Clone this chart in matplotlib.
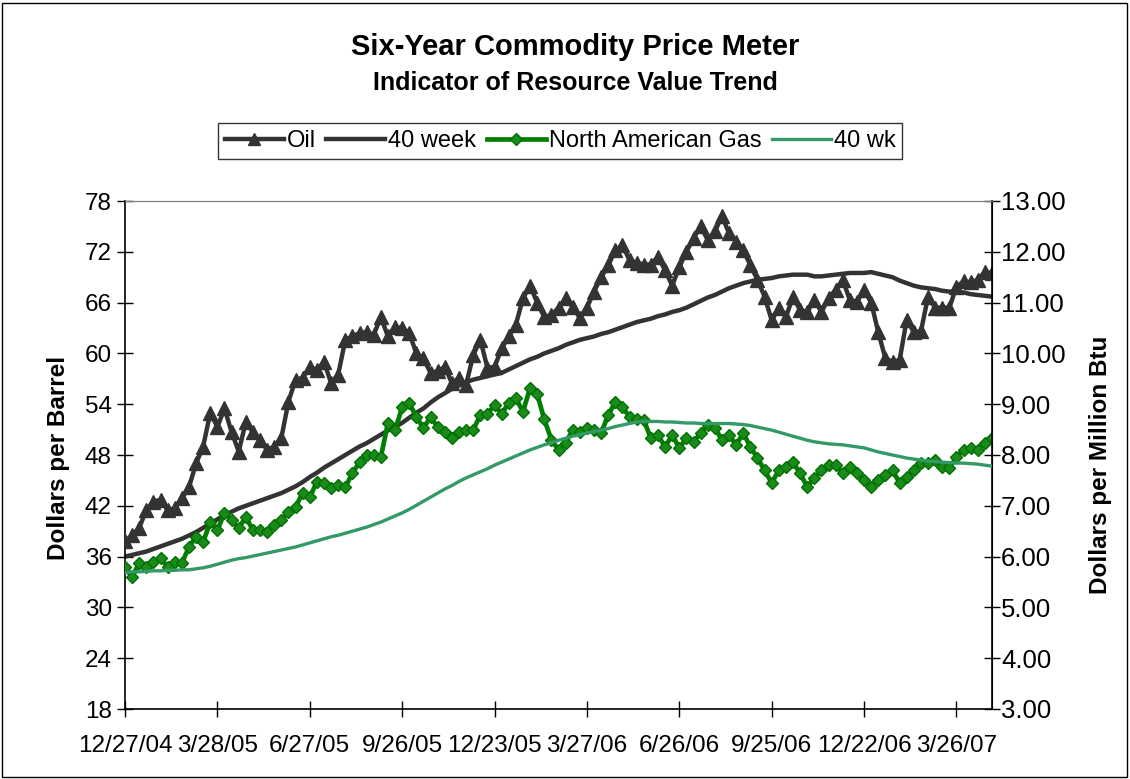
import matplotlib
matplotlib.use("Agg")
import matplotlib.pyplot as plt
from matplotlib.patches import Rectangle
from matplotlib.lines import Line2D

plt.rcParams['font.family'] = ['Liberation Sans', 'DejaVu Sans']

tick_labels = ["12/27/04", "3/28/05", "6/27/05", "9/26/05", "12/23/05",
               "3/27/06", "6/26/06", "9/25/06", "12/22/06", "3/26/07"]
tick_step = 13

oil = [37.8, 38.5, 39.4, 41.5, 42.5, 42.7, 41.5, 41.7, 42.9, 44.2,
       47.0, 49.0, 53.0, 51.3, 53.5, 50.7, 48.4, 51.9, 50.7, 49.8,
       48.6, 49.0, 50.0, 54.3, 56.9, 57.1, 58.4, 58.0, 59.0, 56.5,
       57.5, 61.6, 62.0, 62.4, 62.5, 62.2, 64.3, 62.0, 63.1, 63.0,
       62.4, 60.0, 59.4, 57.7, 57.9, 58.4, 56.5, 57.1, 56.3, 59.8,
       61.6, 58.3, 58.4, 60.6, 62.0, 63.4, 66.5, 68.0, 66.0, 64.3,
       64.5, 65.4, 66.5, 65.5, 64.2, 65.4, 67.3, 69.0, 70.4, 72.2,
       72.8, 71.0, 70.7, 70.5, 70.5, 71.4, 69.8, 68.0, 70.2, 72.0,
       73.6, 75.0, 73.4, 74.4, 76.2, 74.2, 73.2, 72.2, 70.4, 68.7,
       66.7, 63.9, 65.4, 64.3, 66.7, 65.1, 64.9, 66.3, 64.9, 66.5,
       67.5, 68.7, 66.3, 66.1, 67.5, 66.0, 62.5, 59.4, 59.0, 59.2,
       64.0, 62.5, 62.6, 66.7, 65.4, 65.4, 65.4, 67.9, 68.5, 68.4,
       68.7, 69.6, 69.5]

oil_40wk = [36.0, 36.2, 36.4, 36.6, 36.9, 37.2, 37.5, 37.8, 38.1, 38.5,
            38.9, 39.4, 39.9, 40.4, 40.9, 41.3, 41.7, 42.0, 42.3, 42.6,
            42.9, 43.2, 43.5, 43.9, 44.3, 44.8, 45.4, 45.9, 46.5, 47.0,
            47.5, 48.0, 48.5, 49.0, 49.4, 49.9, 50.4, 50.9, 51.3, 51.8,
            52.4, 53.0, 53.5, 54.2, 54.8, 55.3, 55.8, 56.2, 56.6, 56.9,
            57.1, 57.3, 57.5, 57.7, 58.1, 58.5, 58.9, 59.3, 59.6, 60.0,
            60.3, 60.6, 61.0, 61.3, 61.6, 61.8, 62.0, 62.3, 62.5, 62.8,
            63.1, 63.4, 63.7, 63.9, 64.1, 64.4, 64.6, 64.9, 65.1, 65.4,
            65.8, 66.2, 66.6, 66.9, 67.3, 67.7, 68.0, 68.3, 68.5, 68.7,
            68.8, 68.9, 69.1, 69.2, 69.3, 69.3, 69.3, 69.1, 69.1, 69.2,
            69.3, 69.4, 69.5, 69.5, 69.5, 69.6, 69.4, 69.2, 69.0, 68.6,
            68.3, 68.0, 67.8, 67.7, 67.6, 67.4, 67.3, 67.3, 67.2, 67.0,
            66.9, 66.8, 66.7]

gas = [5.80, 5.60, 5.87, 5.80, 5.89, 5.97, 5.80, 5.89, 5.87, 6.19,
       6.39, 6.29, 6.68, 6.52, 6.86, 6.72, 6.56, 6.78, 6.52, 6.52,
       6.48, 6.62, 6.72, 6.88, 6.98, 7.25, 7.17, 7.47, 7.45, 7.35,
       7.41, 7.37, 7.64, 7.86, 8.00, 8.00, 7.96, 8.63, 8.49, 8.94,
       9.02, 8.75, 8.53, 8.75, 8.55, 8.45, 8.33, 8.45, 8.49, 8.49,
       8.79, 8.81, 8.98, 8.81, 9.02, 9.12, 8.85, 9.32, 9.20, 8.70,
       8.30, 8.10, 8.24, 8.49, 8.46, 8.53, 8.49, 8.43, 8.79, 9.04,
       8.94, 8.75, 8.71, 8.69, 8.33, 8.39, 8.16, 8.39, 8.14, 8.33,
       8.26, 8.43, 8.59, 8.53, 8.30, 8.39, 8.20, 8.43, 8.16, 7.94,
       7.70, 7.45, 7.70, 7.76, 7.86, 7.64, 7.37, 7.55, 7.70, 7.80,
       7.80, 7.64, 7.76, 7.64, 7.51, 7.37, 7.51, 7.61, 7.70, 7.45,
       7.57, 7.70, 7.84, 7.84, 7.90, 7.76, 7.74, 7.96, 8.10, 8.14,
       8.10, 8.24, 8.33]

gas_40wk = [5.68, 5.70, 5.70, 5.71, 5.72, 5.72, 5.73, 5.73, 5.74, 5.74,
            5.76, 5.78, 5.81, 5.85, 5.89, 5.93, 5.96, 5.98, 6.01, 6.04,
            6.07, 6.10, 6.13, 6.16, 6.19, 6.23, 6.27, 6.31, 6.35, 6.39,
            6.42, 6.46, 6.50, 6.54, 6.58, 6.63, 6.68, 6.74, 6.80, 6.86,
            6.93, 7.01, 7.09, 7.17, 7.25, 7.33, 7.40, 7.48, 7.55, 7.61,
            7.67, 7.73, 7.80, 7.86, 7.92, 7.98, 8.04, 8.10, 8.15, 8.20,
            8.24, 8.29, 8.33, 8.37, 8.40, 8.43, 8.46, 8.49, 8.52, 8.56,
            8.59, 8.62, 8.65, 8.66, 8.66, 8.66, 8.65, 8.65, 8.64, 8.63,
            8.63, 8.62, 8.62, 8.62, 8.62, 8.62, 8.61, 8.60, 8.58, 8.55,
            8.52, 8.49, 8.45, 8.41, 8.37, 8.33, 8.29, 8.26, 8.24, 8.22,
            8.21, 8.20, 8.18, 8.16, 8.14, 8.10, 8.06, 8.03, 8.00, 7.97,
            7.94, 7.92, 7.90, 7.88, 7.87, 7.86, 7.85, 7.84, 7.84, 7.83,
            7.82, 7.80, 7.78]

left_ticks = [18, 24, 30, 36, 42, 48, 54, 60, 66, 72, 78]
right_ticks = [3, 4, 5, 6, 7, 8, 9, 10, 11, 12, 13]

OIL_C = '#333333'
GAS_C = '#008000'
GASMA_C = '#339966'
GAS_MFC = '#1a8a1a'
GAS_MEC = '#007000'

W, H = 1130, 779
fig = plt.figure(figsize=(W / 100, H / 100), dpi=100)
fig.patch.set_facecolor('white')
fig.patches.append(Rectangle((2 / W, 2 / H), (W - 5) / W, (H - 5) / H,
                             transform=fig.transFigure, fill=False,
                             edgecolor='black', linewidth=1.0))

ax = fig.add_axes([125 / W, 1 - 709 / H, (992 - 125) / W, (709 - 201) / H])
ax2 = ax.twinx()

x = list(range(len(oil)))
ax.plot(x, oil, color=OIL_C, lw=3.2, marker='^', ms=9.5, mfc=OIL_C, mec=OIL_C,
        solid_joinstyle='round', zorder=3)
ax.plot(x, oil_40wk, color=OIL_C, lw=3.2, solid_joinstyle='round', zorder=2)

ax2.plot(x, gas, color=GAS_C, lw=3.4, marker='D', ms=6.5, mfc=GAS_MFC, mec=GAS_MEC,
         mew=1.0, solid_joinstyle='round', zorder=2)
ax2.plot(x, gas_40wk, color=GASMA_C, lw=2.4, solid_joinstyle='round', zorder=3)

ax.set_xlim(0, len(oil) - 1)
ax.set_ylim(18, 78)
ax2.set_ylim(3, 13)

ax.set_xticks(list(range(0, len(tick_labels) * tick_step, tick_step)))
ax.set_xticklabels(tick_labels)
ax.set_yticks(left_ticks)
ax.set_yticklabels([str(v) for v in left_ticks])
ax2.set_yticks(right_ticks)
ax2.set_yticklabels([f"{v:.2f}" for v in right_ticks])

ax.tick_params(axis='both', direction='inout', length=11, width=1.0, colors='black',
               labelsize=17.5)
ax.tick_params(axis='y', pad=4)
ax.tick_params(axis='x', pad=13)
ax2.tick_params(axis='y', direction='inout', length=11, width=1.0, labelsize=18.5, pad=1)

for sp in ['left', 'bottom']:
    ax.spines[sp].set_color('black')
    ax.spines[sp].set_linewidth(1.2)
ax.spines['top'].set_color('#808080')
ax2.spines['top'].set_color('#808080')
ax2.spines['right'].set_color('black')
ax2.spines['right'].set_linewidth(1.2)
ax2.spines['left'].set_visible(False)
ax2.spines['bottom'].set_visible(False)

fig.text(575 / W, 1 - 47 / H, "Six-Year Commodity Price Meter", ha='center', va='center',
         fontsize=21, fontweight='bold')
fig.text(575 / W, 1 - 83 / H, "Indicator of Resource Value Trend", ha='center', va='center',
         fontsize=18, fontweight='bold')
fig.text(58 / W, 1 - 458 / H, "Dollars per Barrel", ha='center', va='center',
         rotation=90, fontsize=17.5, fontweight='bold')
fig.text(1100 / W, 1 - 465 / H, "Dollars per Million Btu", ha='center', va='center',
         rotation=90, fontsize=17.5, fontweight='bold')

handles = [
    Line2D([], [], color=OIL_C, lw=3.2, marker='^', ms=9),
    Line2D([], [], color=OIL_C, lw=3.2),
    Line2D([], [], color=GAS_C, lw=3.4, marker='D', ms=6, mfc=GAS_MFC, mec=GAS_MEC),
    Line2D([], [], color=GASMA_C, lw=2.4),
]
labels = ["Oil", "40 week", "North American Gas", "40 wk"]
leg = fig.legend(handles, labels, loc='center', bbox_to_anchor=(560 / W, 1 - 141 / H),
                 ncol=4, frameon=True, fancybox=False, fontsize=17, handlelength=2.5,
                 handletextpad=0.12, columnspacing=0.45, borderpad=0.3, edgecolor='black')
leg.get_frame().set_linewidth(1.0)

fig.savefig("out.png", dpi=100)
